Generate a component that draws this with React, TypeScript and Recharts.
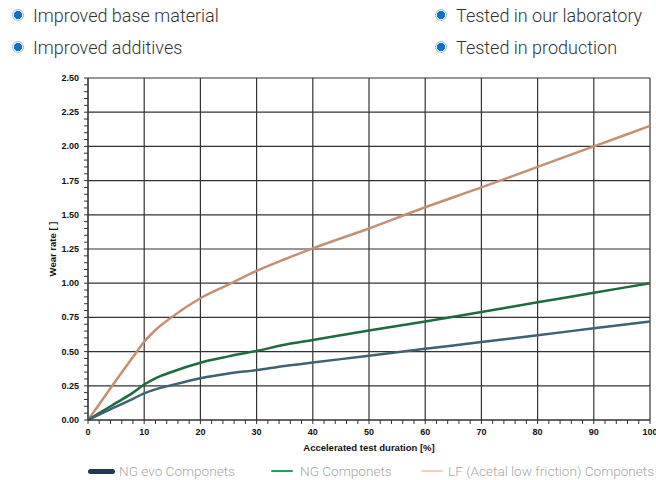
import React from "react";
import {
  LineChart,
  Line,
  XAxis,
  YAxis,
  CartesianGrid,
  Label
} from "recharts";

// test duration [%]
const duration = [0, 2, 5, 8, 10, 12, 15, 20, 25, 30, 35, 40, 50, 60, 70, 80, 90, 100];

// wear rate per series
const ngEvo = [0, 0.04, 0.097, 0.155, 0.195, 0.224, 0.256, 0.305, 0.34, 0.365, 0.395, 0.42, 0.47, 0.52, 0.57, 0.62, 0.67, 0.72];
const ng = [0, 0.05, 0.125, 0.2, 0.26, 0.305, 0.353, 0.419, 0.465, 0.505, 0.55, 0.585, 0.655, 0.72, 0.79, 0.86, 0.93, 1.0];
const lf = [0, 0.115, 0.29, 0.46, 0.572, 0.658, 0.755, 0.89, 0.99, 1.09, 1.175, 1.255, 1.4, 1.555, 1.7, 1.85, 2.0, 2.15];

const xMajor = [0, 10, 20, 30, 40, 50, 60, 70, 80, 90, 100];
const yMajor = [0, 0.25, 0.5, 0.75, 1.0, 1.25, 1.5, 1.75, 2.0, 2.25, 2.5];

const bullets = [
  ["Improved base material", "Tested in our laboratory"],
  ["Improved additives", "Tested in production"]
];

const legendItems = [
  { name: "NG evo Componets", color: "#243656", thick: 5, x: 88, w: 27, tx: 119 },
  { name: "NG Componets", color: "#1ea35e", thick: 2, x: 271, w: 22, tx: 300 },
  { name: "LF (Acetal low friction) Componets", color: "#f6cfb0", thick: 2, x: 421, w: 22, tx: 448 }
];

const data = duration.map((d, i) => ({ d, ngEvo: ngEvo[i], ng: ng[i], lf: lf[i] }));

// minor tick positions
const xTicks = Array.from({ length: 51 }, (_, i) => i * 2);
const yTicks = Array.from({ length: 51 }, (_, i) => +(i * 0.05).toFixed(2));

const tickFont = { fontFamily: "Liberation Sans", fontWeight: 700, fontSize: 9, fill: "#111" };

const XTick = (props: any) => {
  const { x, y, payload } = props;
  const v = payload.value;
  const major = v % 10 === 0;
  return (
    <g>
      <line x1={x} x2={x} y1={y} y2={y + 4} stroke="#333" />
      {major && (
        <text x={x} y={y + 15} textAnchor="middle" style={tickFont}>{v}</text>
      )}
    </g>
  );
};

const YTick = (props: any) => {
  const { x, y, payload } = props;
  const v = payload.value;
  const major = Math.abs(v * 4 - Math.round(v * 4)) < 1e-6;
  return (
    <g>
      <line x1={x - 4} x2={x} y1={y} y2={y} stroke="#333" />
      {major && (
        <text x={x - 9} y={y + 3} textAnchor="end" style={tickFont}>{v.toFixed(2)}</text>
      )}
    </g>
  );
};

const Bullet = () => (
  <span
    style={{
      position: "absolute",
      left: -21,
      top: 4,
      width: 10,
      height: 10,
      borderRadius: "50%",
      border: "1.6px solid #8fc0ea",
      background: "radial-gradient(circle, #1670c2 0 3.9px, #fff 4.4px)"
    }}
  />
);

export default function App() {
  return (
    <div style={{ position: "absolute", left: 0, top: 0, width: 656, height: 480, background: "#fff", overflow: "hidden" }}>
      {bullets.map((row, r) => (
        <div key={r}>
          {row.map((t, c) => (
            <div
              key={c}
              style={{
                position: "absolute",
                left: c === 0 ? 33 : 456,
                top: 5 + r * 32,
                fontFamily: "Roboto, sans-serif",
                fontWeight: 300,
                fontSize: 18,
                color: "#333",
                whiteSpace: "nowrap",
                lineHeight: "22px"
              }}
            >
              <Bullet />
              {t}
            </div>
          ))}
        </div>
      ))}

      <div style={{ position: "absolute", left: 0, top: 0 }}>
        <LineChart
          width={656}
          height={460}
          data={data}
          margin={{ top: 78, right: 6, left: 0, bottom: 0 }}
        >
          <CartesianGrid
            stroke="#333"
            strokeWidth={1.2}
            horizontalValues={yMajor}
            verticalValues={xMajor}
          />
          <XAxis
            dataKey="d"
            type="number"
            domain={[0, 100]}
            ticks={xTicks}
            interval={0}
            height={40}
            tickSize={0}
            tickMargin={0}
            tick={<XTick />}
            axisLine={{ stroke: "#333" }}
          >
            <Label
              value="Accelerated test duration [%]"
              position="insideTop"
              offset={24}
              style={{ fontFamily: "Liberation Sans", fontWeight: 700, fontSize: 9.5, fill: "#111" }}
            />
          </XAxis>
          <YAxis
            type="number"
            domain={[0, 2.5]}
            ticks={yTicks}
            interval={0}
            width={88}
            tickSize={0}
            tickMargin={0}
            tick={<YTick />}
            axisLine={{ stroke: "#333" }}
          >
            <Label
              value="Wear rate [ ]"
              angle={-90}
              position="center"
              dx={9}
              style={{ fontFamily: "Liberation Sans", fontWeight: 700, fontSize: 9.5, fill: "#111", textAnchor: "middle" }}
            />
          </YAxis>
          <Line type="monotone" dataKey="lf" stroke="#c58f74" strokeWidth={2.5} dot={false} isAnimationActive={false} />
          <Line type="monotone" dataKey="ng" stroke="#1e6b3e" strokeWidth={2.5} dot={false} isAnimationActive={false} />
          <Line type="monotone" dataKey="ngEvo" stroke="#3d6272" strokeWidth={2.5} dot={false} isAnimationActive={false} />
        </LineChart>
      </div>

      {legendItems.map((it) => (
        <div key={it.name}>
          <div
            style={{
              position: "absolute",
              left: it.x,
              top: 471 - it.thick / 2,
              width: it.w,
              height: it.thick,
              borderRadius: it.thick / 2,
              background: it.color
            }}
          />
          <div
            style={{
              position: "absolute",
              left: it.tx,
              top: 462,
              fontFamily: "Roboto, sans-serif",
              fontWeight: 300,
              fontSize: 13.6,
              lineHeight: "18px",
              color: "#a8a8a8",
              whiteSpace: "nowrap"
            }}
          >
            {it.name}
          </div>
        </div>
      ))}
    </div>
  );
}
